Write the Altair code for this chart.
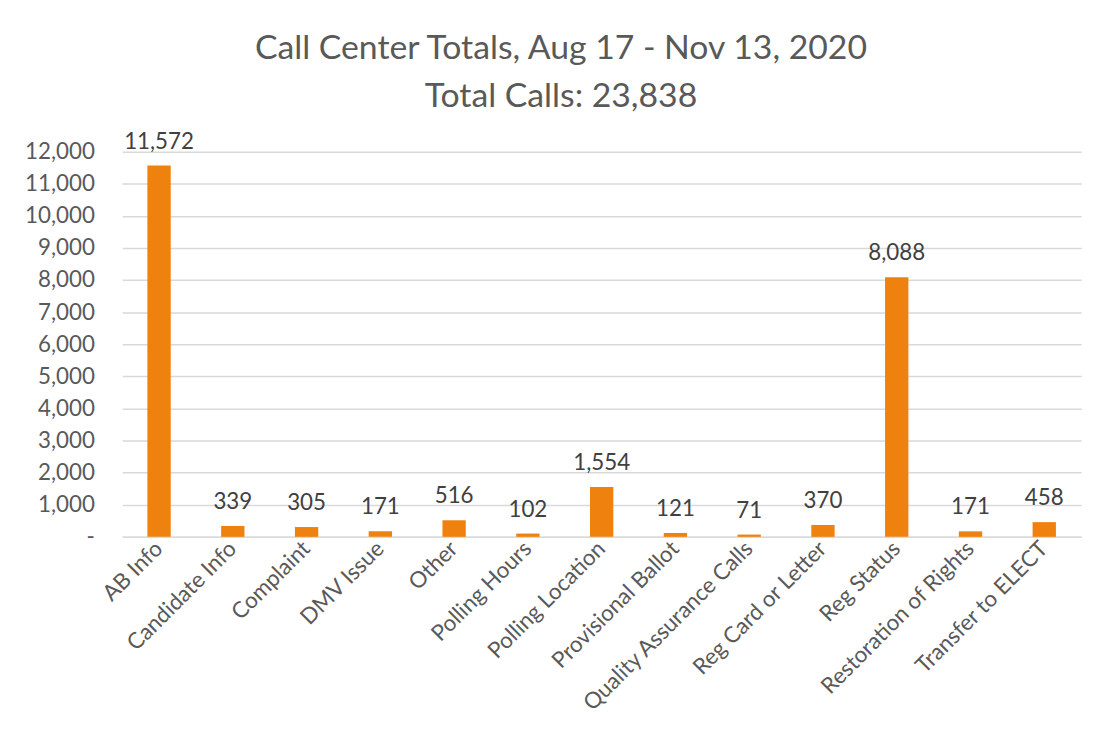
import altair as alt
import pandas as pd

categories = ["AB Info", "Candidate Info", "Complaint", "DMV Issue", "Other",
              "Polling Hours", "Polling Location", "Provisional Ballot",
              "Quality Assurance Calls", "Reg Card or Letter", "Reg Status",
              "Restoration of Rights", "Transfer to ELECT"]
calls = [11572, 339, 305, 171, 516, 102, 1554, 121, 71, 370, 8088, 171, 458]
y_ticks = [0, 1000, 2000, 3000, 4000, 5000, 6000, 7000, 8000, 9000, 10000, 11000, 12000]

df = pd.DataFrame({"category": categories, "calls": calls})

FONT = "Lato"
GREY = "#595959"

x = alt.X("category:N", sort=categories, title=None,
          axis=alt.Axis(labelAngle=-45, labelAlign="right", labelBaseline="middle",
                        labelFontSize=22.5, labelColor=GREY, labelFont=FONT,
                        labelPadding=8, ticks=False, domainColor="#D9D9D9",
                        domainWidth=1.5, labelLimit=400, labelOverlap=False))
y = alt.Y("calls:Q", title=None,
          scale=alt.Scale(domain=[0, 12000], nice=False),
          axis=alt.Axis(values=y_ticks, tickCount=13,
                        labelExpr="datum.value == 0 ? '-' : format(datum.value, ',')",
                        labelFontSize=22.5, labelColor=GREY, labelFont=FONT,
                        labelPadding=28, ticks=False, domain=False,
                        labelOverlap=False,
                        gridColor="#D9D9D9", gridWidth=1.5))

base = alt.Chart(df).encode(x=x, y=y)
bars = base.mark_bar(size=23.5, color="#EF810E")
labels = base.mark_text(baseline="bottom", dy=-12, fontSize=22.5,
                        font=FONT, color="#404040").encode(
    text=alt.Text("calls:Q", format=","))

chart = (bars + labels).properties(
    width=966, height=388,
    title=alt.Title(["Call Center Totals, Aug 17 - Nov 13, 2020", "Total Calls: 23,838"],
                    fontSize=34, font=FONT, color=GREY, fontWeight="normal",
                    lineHeight=48, anchor="middle", dx=-41, offset=17),
    autosize=alt.AutoSizeParams(type="none"),
    padding={"left": 115, "top": 142, "right": 20, "bottom": 211},
).configure(background="white").configure_view(stroke=None, strokeWidth=0)

chart.save("out.html", embed_options={"renderer": "svg", "actions": False})
